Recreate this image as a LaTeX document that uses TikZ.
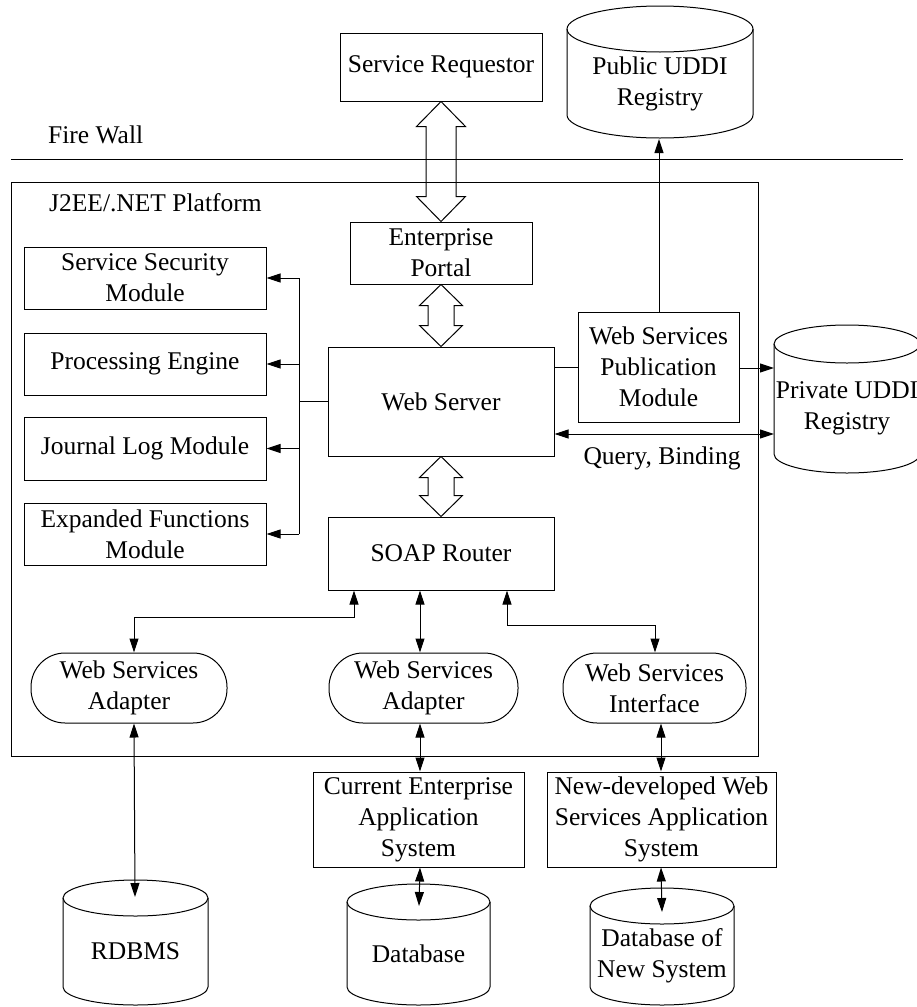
\documentclass[tikz,border=0pt]{standalone}
\usepackage{fontspec}
\setmainfont{Liberation Serif}
\usetikzlibrary{arrows.meta,calc}
\tikzset{
  every node/.style={font=\fontsize{25.5}{31}\selectfont, inner sep=0pt},
  line/.style={draw=black, line width=1pt},
  box/.style={draw, line width=1pt, align=center, rectangle},
  adapt/.style={draw, line width=1pt, align=center, rounded corners=34pt},
  arr/.style={line width=1pt, -{Triangle[length=14pt,width=9pt]}},
  darr/.style={line width=1pt, {Triangle[length=14pt,width=9pt]}-{Triangle[length=14pt,width=9pt]}},
  lbl/.style={align=center},
}
\newcommand\dbcylinder[7]{%
  \pgfmathsetmacro\cylCx{(#2+#3)/2}%
  \pgfmathsetmacro\cylRx{(#3-#2)/2}%
  \pgfmathsetmacro\cylTy{-(#4+#6)}%
  \pgfmathsetmacro\cylBy{-(#5-#6)}%
  \pgfmathsetmacro\cylMy{(\cylTy-#5)/2}%
  \draw[line] (#2,\cylTy) -- (#2,\cylBy) arc[start angle=180,end angle=360,x radius=\cylRx pt,y radius=#6pt] -- (#3,\cylTy);
  \draw[line] (\cylCx,\cylTy) ellipse[x radius=\cylRx pt, y radius=#6pt];
  \node[lbl] (#1) at (\cylCx,\cylMy) {#7};
}
\newcommand\hollowarrow[5]{%
  \draw[line] let \p1=(#1), \p2=(#2) in
    (\x1,\y1) -- (\x1+#4pt,\y1-#5pt) -- (\x1+#3pt,\y1-#5pt) -- (\x1+#3pt,\y2+#5pt)
    -- (\x1+#4pt,\y2+#5pt) -- (\x1,\y2) -- (\x1-#4pt,\y2+#5pt) -- (\x1-#3pt,\y2+#5pt)
    -- (\x1-#3pt,\y1-#5pt) -- (\x1-#4pt,\y1-#5pt) -- cycle;
}
\begin{document}
\begin{tikzpicture}[x=1pt,y=1pt]
\useasboundingbox (0,0) rectangle (917,-1007);

% platform and firewall
\node[draw, line width=1pt, minimum width=747pt, minimum height=574pt, anchor=north west] (plat) at (11,-182) {};
\node[anchor=west] (fwlabel) at (48,-135) {Fire Wall};
\coordinate (fw1) at (11,-159);
\coordinate (fw2) at (903,-159);
\draw[line] (fw1) -- (fw2);
\node[anchor=west] (platlabel) at (49,-203) {J2EE/.NET Platform};

% boxes
\node[box, minimum width=202pt, minimum height=68pt] (req) at (441,-67) {Service Requestor};
\node[box, minimum width=182pt, minimum height=62pt] (ep) at (441,-253) {Enterprise\\Portal};
\node[box, minimum width=226pt, minimum height=109pt] (ws) at (441,-401.5) {Web Server};
\node[box, minimum width=226pt, minimum height=73pt] (soap) at (441,-553.5) {SOAP Router};
\node[box, minimum width=161pt, minimum height=110pt] (pub) at (658.5,-367) {Web Services\\Publication\\Module};

\node[box, minimum width=242pt, minimum height=62pt] (ssm) at (145,-278) {Service Security\\Module};
\node[box, minimum width=242pt, minimum height=62pt] (pe) at (145,-364) {Processing Engine};
\node[box, minimum width=242pt, minimum height=63pt] (jlm) at (145,-448.5) {Journal Log Module};
\node[box, minimum width=242pt, minimum height=62pt] (efm) at (145,-534) {Expanded Functions\\Module};

\node[adapt, minimum width=196pt, minimum height=70pt] (ad1) at (129,-688) {Web Services\\Adapter};
\node[adapt, minimum width=189pt, minimum height=70pt] (ad2) at (423.5,-688) {Web Services\\Adapter};
\node[adapt, minimum width=183pt, minimum height=70pt] (ad3) at (654.5,-688) {Web Services\\Interface};

\node[box, minimum width=211pt, minimum height=95pt] (ce) at (418.5,-819.5) {Current Enterprise\\Application\\System};
\node[box, minimum width=229pt, minimum height=95pt] (nd) at (661.5,-819.5) {New-developed Web\\Services Application\\System};

% cylinders
\dbcylinder{pubuddi}{567}{753}{6}{138}{23}{Public UDDI\\Registry}
\dbcylinder{privuddi}{774}{920}{325}{473}{19}{Private UDDI\\Registry}
\dbcylinder{rdbms}{63}{208}{880}{1005}{18}{RDBMS}
\dbcylinder{db}{347}{490}{884}{1005}{18}{Database}
\dbcylinder{dbns}{590}{734}{888}{1005}{18}{Database of\\New System}

% hollow double arrows
\hollowarrow{req.south}{ep.north}{15}{24.5}{25}
\hollowarrow{ep.south}{ws.north}{13}{21.5}{21}
\hollowarrow{ws.south}{soap.north}{13}{21.5}{21}

% bus to left modules
\coordinate (bus) at (299,-401.5);
\draw[line] (ws.west) -- (bus);
\draw[line] (bus |- ssm.east) -- (bus |- efm.east);
\draw[arr] (bus |- ssm.east) -- (ssm.east);
\draw[arr] (bus |- pe.east) -- (pe.east);
\draw[arr] (bus |- jlm.east) -- (jlm.east);
\draw[arr] (bus |- efm.east) -- (efm.east);

% publication and registries
\draw[line] (pub.west -| ws.east) -- (pub.west);
\coordinate (pubbot) at (659,-139);
\draw[arr] (pub.north -| pubbot) -- (pubbot);
\coordinate (privin) at (774,-368);
\draw[arr] (pub.east |- privin) -- (privin);
\coordinate (q) at (774,-434);
\draw[darr] (ws.east |- q) -- (q);
\node (qlabel) at (662,-458) {Query, Binding};

% SOAP router to adapters
\coordinate (x1) at (134,0);
\coordinate (x2) at (420,0);
\coordinate (x3a) at (655,0);
\coordinate (x3b) at (661,0);
\coordinate (xs1) at (354,0);
\coordinate (xs3) at (507,0);
\coordinate (h1) at (0,-617);
\coordinate (h3) at (0,-625);
\draw[darr] (soap.south -| xs1) |- (x1 |- h1) -- (ad1.north -| x1);
\draw[darr] (soap.south -| x2) -- (ad2.north -| x2);
\draw[darr] (soap.south -| xs3) |- (x3a |- h3) -- (ad3.north -| x3a);

% adapters to systems
\coordinate (rdbmstop) at (135,-897);
\coordinate (dbtop) at (419,-906);
\coordinate (dbnstop) at (662,-912);
\draw[darr] (ad1.south -| x1) -- (rdbmstop);
\draw[darr] (ad2.south -| x2) -- (ce.north -| x2);
\draw[darr] (ad3.south -| x3b) -- (nd.north -| x3b);
\draw[darr] (ce.south -| x2) -- (dbtop);
\draw[darr] (nd.south -| x3b) -- (dbnstop);
\end{tikzpicture}
\end{document}
